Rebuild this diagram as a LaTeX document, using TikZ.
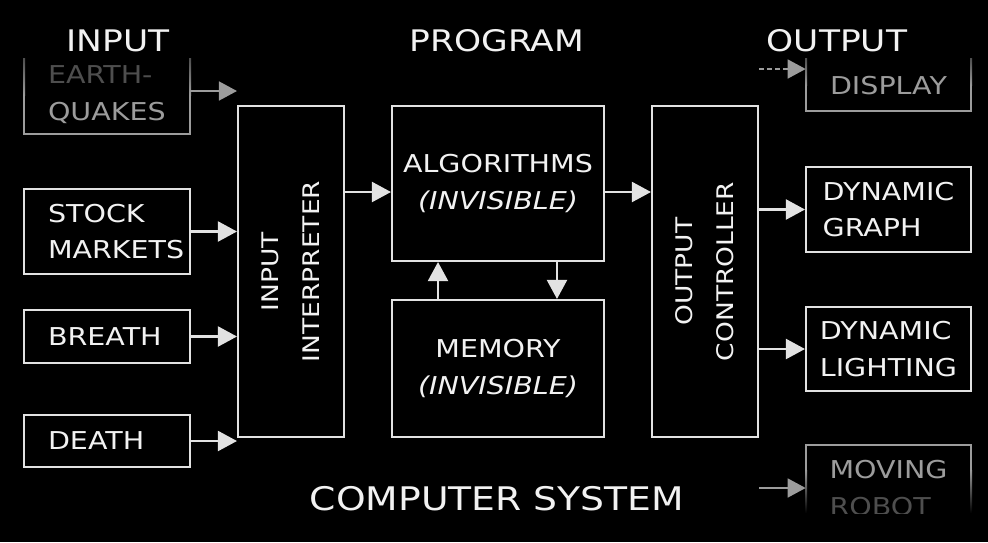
\documentclass[tikz,border=0pt]{standalone}
\usepackage{fontspec}
\setmainfont{DejaVu Sans}[FakeStretch=1.16]
\usepackage{tikz}
\usetikzlibrary{arrows.meta}
\definecolor{lineclr}{HTML}{E2E2E2}
\definecolor{textclr}{HTML}{F2F2F2}
\definecolor{dimclr}{HTML}{9C9C9C}
\definecolor{darkclr}{HTML}{4E4E4E}
\tikzset{
	box/.style={draw=lineclr, line width=1.2pt, text=textclr, inner sep=0pt, font=\fontsize{14}{21}\selectfont},
	dimbox/.style={text=dimclr, inner sep=0pt, font=\fontsize{14}{21}\selectfont},
	inbox/.style={minimum width=3.32cm, text width=2.36cm, align=left},
	outbox/.style={minimum width=3.3cm, align=left},
	headtxt/.style={text=textclr, inner sep=0pt, font=\fontsize{16.9}{20}\selectfont},
	sidetxt/.style={rotate=90, text=textclr, align=center, font=\fontsize{13}{23.5}\selectfont},
	arr/.style={-{Triangle[length=0.38cm,width=0.4cm]}, draw=lineclr, line width=1.2pt},
	dimarr/.style={-{Triangle[length=0.36cm,width=0.38cm]}, draw=dimclr, line width=0.9pt}
}

\begin{document}
\begin{tikzpicture}[x=0.02cm, y=-0.02cm]
	\fill[black] (0,0) rectangle (988,542);
	\useasboundingbox (0,0) rectangle (988,542);

	\node[headtxt] (inhead) at (118,41) {INPUT};
	\node[headtxt] (proghead) at (497,41) {PROGRAM};
	\node[headtxt] (outhead) at (837,41) {OUTPUT};
	\node[headtxt, font=\fontsize{18.5}{22}\selectfont] (syshead) at (497,499) {COMPUTER SYSTEM};

	% inputs
	\node[dimbox, inbox, minimum height=1.56cm] (quake) at (107,95) {\textcolor{darkclr}{EARTH-}\\QUAKES};
	\node[box, inbox, minimum height=1.7cm] (stock) at (107,231.5) {STOCK\\MARKETS};
	\node[box, inbox, minimum height=1.06cm] (breath) at (107,336.5) {BREATH};
	\node[box, inbox, minimum height=1.04cm] (death) at (107,441) {DEATH};
	\draw[dimclr, line width=1.2pt] (quake.west) -- (quake.south west) -- (quake.south east) -- (quake.east);
	\shade[top color=darkclr, bottom color=dimclr] (23,58) rectangle (25,95);
	\shade[top color=darkclr, bottom color=dimclr] (189,58) rectangle (191,95);

	% program
	\node[box, minimum width=2.12cm, minimum height=6.62cm] (interp) at (291,271.5) {};
	\node[sidetxt] (interptxt) at (interp) {INPUT\\INTERPRETER};
	\node[box, minimum width=4.24cm, minimum height=3.1cm, align=center] (algo) at (498,183.5) {ALGORITHMS\\\textit{(INVISIBLE)}};
	\node[box, minimum width=4.24cm, minimum height=2.74cm, align=center] (mem) at (498,368.5) {MEMORY\\\textit{(INVISIBLE)}};
	\node[box, minimum width=2.12cm, minimum height=6.62cm] (ctrl) at (705,271.5) {};
	\node[sidetxt] (ctrltxt) at (ctrl) {OUTPUT\\CONTROLLER};

	% outputs
	\node[dimbox, outbox, minimum height=1.02cm] (display) at (888.5,85.5) {DISPLAY};
	\node[box, outbox, minimum height=1.7cm] (graph) at (888.5,209.5) {DYNAMIC\\GRAPH};
	\node[box, outbox, minimum height=1.68cm] (light) at (888.5,349) {DYNAMIC\\LIGHTING};
	\draw[dimclr, line width=1.2pt] (display.west) -- (display.south west) -- (display.south east) -- (display.east);
	\shade[top color=darkclr, bottom color=dimclr] (805,58) rectangle (807,85.5);
	\shade[top color=darkclr, bottom color=dimclr] (970,58) rectangle (972,85.5);
	\begin{scope}
		\clip (0,0) rectangle (988,513);
		\node[dimbox, outbox, minimum height=1.72cm] (robot) at (888.5,488) {MOVING\\\textcolor{darkclr}{ROBOT}};
		\draw[dimclr, line width=1.2pt] ([yshift=-0.5cm]robot.north west) -- (robot.north west) -- (robot.north east) -- ([yshift=-0.5cm]robot.north east);
		\shade[top color=dimclr, bottom color=black] (805,470) rectangle (807,513);
		\shade[top color=dimclr, bottom color=black] (970,470) rectangle (972,513);
	\end{scope}

	% connectors
	\coordinate (quakeout) at ([yshift=0.08cm]quake.east);
	\draw[dimarr] (quakeout) -- (quakeout -| interp.west);
	\foreach \n in {stock,breath,death}
		\draw[arr] (\n.east) -- (\n.east -| interp.west);
	\coordinate (algoin) at ([yshift=-0.17cm]algo.west);
	\coordinate (algoout) at ([yshift=-0.17cm]algo.east);
	\draw[arr] (algoin -| interp.east) -- (algoin);
	\draw[arr] (algoout) -- (algoout -| ctrl.west);
	\draw[arr] ([xshift=-1.2cm]mem.north) -- ([xshift=-1.2cm]algo.south);
	\draw[arr] ([xshift=1.18cm]algo.south) -- ([xshift=1.18cm]mem.north);
	\foreach \n in {graph,light}
		\draw[arr] (ctrl.east |- \n.west) -- (\n.west);
	\coordinate (dispin) at ([yshift=0.33cm]display.west);
	\draw[dimarr, dash pattern=on 3pt off 1.5pt] (dispin -| ctrl.east) -- (dispin);
	\draw[dimarr] (robot.west -| ctrl.east) -- (robot.west);
\end{tikzpicture}
\end{document}
